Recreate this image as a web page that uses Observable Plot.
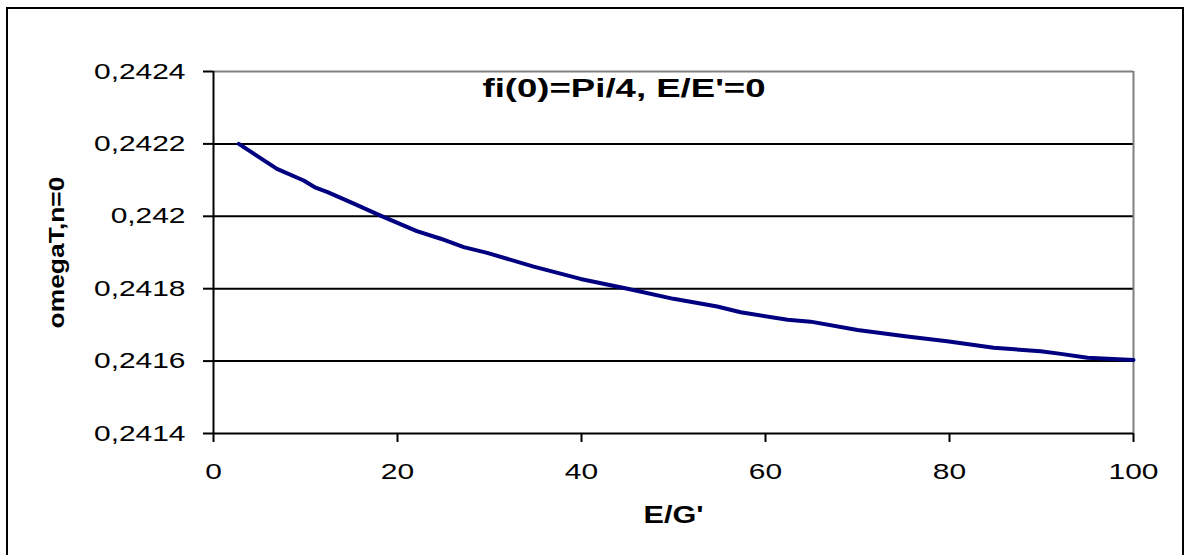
<!DOCTYPE html>
<html>
<head>
<meta charset="utf-8">
<script src="https://cdn.jsdelivr.net/npm/d3@7"></script>
<script src="https://cdn.jsdelivr.net/npm/@observablehq/plot@0.6"></script>
<style>
  html, body { margin: 0; padding: 0; background: #fff; width: 1184px; height: 555px; overflow: hidden; }
  #frame { position: absolute; left: 6px; top: 7px; width: 1178px; height: 620px; box-sizing: border-box; border: 2.5px solid #000; border-bottom: none; }
  #chart { position: absolute; left: 0; top: 0; }
</style>
</head>
<body>
<div id="frame"></div>
<div id="chart"></div>
<script>
// Data
const xValues = [2.75, 6.9, 9.8, 11.1, 12.4, 15.25, 18.15, 22.1, 24.7, 27.2, 29.75, 34.8, 39.9, 45.0, 50.0, 54.75, 57.3, 62.4, 64.9, 70.0, 75.4, 79.75, 84.8, 89.9, 92.1, 95.0, 100];
const yValues = [0.24220, 0.242131, 0.242099, 0.242079, 0.242067, 0.242035, 0.242002, 0.241959, 0.241938, 0.241915, 0.241899, 0.241861, 0.241827, 0.241800, 0.241772, 0.241751, 0.241735, 0.241714, 0.241709, 0.241686, 0.241668, 0.241655, 0.241637, 0.241627, 0.241620, 0.241609, 0.241603];
const xTicks = [0, 20, 40, 60, 80, 100];
const yTicks = [0.2414, 0.2416, 0.2418, 0.242, 0.2422, 0.2424];
const gridY = [0.2416, 0.2418, 0.242, 0.2422];
const titleText = "fi(0)=Pi/4, E/E'=0";
const xLabel = "E/G'";
const yLabel = "omegaT,n=0";

const data = xValues.map((x, i) => ({x, y: yValues[i]}));
const fmt = d => String(d).replace(".", ",");

const svg = Plot.plot({
  width: 1184,
  height: 555,
  marginLeft: 213,
  marginRight: 51,
  marginTop: 71,
  marginBottom: 122,
  style: {fontFamily: "'Liberation Sans', Arial, sans-serif", fontSize: "22px", color: "#000", background: "transparent", overflow: "visible"},
  x: {domain: [0, 100]},
  y: {domain: [0.2414, 0.2424]},
  marks: [
    Plot.ruleY(gridY, {stroke: "#000", strokeWidth: 2}),
    Plot.ruleY([0.2424], {stroke: "#808080", strokeWidth: 2}),
    Plot.ruleX([100], {stroke: "#808080", strokeWidth: 2}),
    Plot.ruleX([0], {stroke: "#000", strokeWidth: 2}),
    Plot.ruleY([0.2414], {stroke: "#000", strokeWidth: 2}),
    Plot.axisY({ticks: yTicks, tickFormat: fmt, tickSize: 10, tickPadding: 18, strokeWidth: 2, label: null, fontSize: 22}),
    Plot.axisX({ticks: xTicks, tickFormat: d => String(d), tickSize: 9, tickPadding: 21, strokeWidth: 2, label: null, fontSize: 22}),
    Plot.line(data, {x: "x", y: "y", stroke: "#000080", strokeWidth: 4}),
    Plot.text([titleText], {frameAnchor: "top", dx: -49.5, dy: 17, lineAnchor: "middle", textAnchor: "middle", fontSize: 25, fontWeight: "bold", fill: "#000"}),
    Plot.text([xLabel], {frameAnchor: "bottom", dy: 82, lineAnchor: "middle", textAnchor: "middle", fontSize: 23, fontWeight: "bold", fill: "#000"}),
    Plot.text([yLabel], {frameAnchor: "left", dx: -157, rotate: -90, lineAnchor: "middle", textAnchor: "middle", fontSize: 22, fontWeight: "bold", fill: "#000"})
  ]
});
document.getElementById("chart").append(svg);

// Widen glyphs to match the stretched rendering of the reference
svg.querySelectorAll("text").forEach(t => {
  const s = t.textContent;
  const len = t.getComputedTextLength();
  if (!len) return;
  let target = len * 1.36;
  if (s === titleText) target = 283;
  else if (s === xLabel) target = len * 1.33;
  else if (s === yLabel) target = 152;
  t.setAttribute("textLength", target);
  t.setAttribute("lengthAdjust", "spacingAndGlyphs");
});
</script>
</body>
</html>
